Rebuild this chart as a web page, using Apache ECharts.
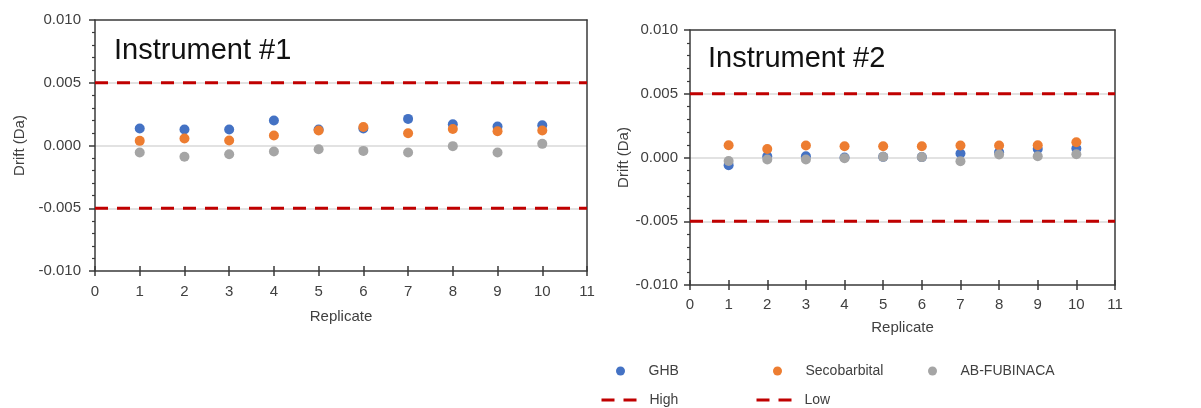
<!DOCTYPE html>
<html>
<head>
<meta charset="utf-8">
<script src="https://cdn.jsdelivr.net/npm/echarts@6/dist/echarts.min.js"></script>
<style>
html,body{margin:0;padding:0;background:#fff;}
#chart{width:1201px;height:408px;}
</style>
</head>
<body>
<div id="chart"></div>
<script>
// ---- data ----
var replicates = [1, 2, 3, 4, 5, 6, 7, 8, 9, 10];
var inst1GHB   = [0.00135, 0.00128, 0.00128, 0.00199, 0.00128, 0.00135, 0.00212, 0.00170, 0.00151, 0.00162];
var inst1Seco  = [0.00037, 0.00056, 0.00040, 0.00080, 0.00120, 0.00148, 0.00098, 0.00132, 0.00114, 0.00120];
var inst1ABF   = [-0.00056, -0.00090, -0.00070, -0.00048, -0.00030, -0.00043, -0.00056, -0.00005, -0.00056, 0.00013];
var inst2GHB   = [-0.00060, 0.00010, 0.00010, 0.00000, 0.00005, 0.00003, 0.00031, 0.00041, 0.00067, 0.00070];
var inst2Seco  = [0.00096, 0.00067, 0.00094, 0.00088, 0.00088, 0.00088, 0.00094, 0.00094, 0.00096, 0.00120];
var inst2ABF   = [-0.00027, -0.00016, -0.00016, -0.00005, 0.00005, 0.00003, -0.00029, 0.00023, 0.00010, 0.00026];
var highLimit = 0.005;
var lowLimit = -0.005;
var xRange = [0, 11];
var yRange = [-0.010, 0.010];
var panelTitles = ['Instrument #1', 'Instrument #2'];

// ---- styling ----
var colors = { 'GHB': '#4472C4', 'Secobarbital': '#ED7D31', 'AB-FUBINACA': '#A5A5A5' };
var red = '#C00000';
var axisColor = '#3a3a3a';
var textColor = '#404040';
var font = 'Liberation Sans, Arial, sans-serif';

function pairs(xs, ys) { return xs.map(function (x, i) { return [x, ys[i]]; }); }

var grids = [
  { left: 95, top: 20, width: 492, height: 251 },
  { left: 690, top: 30, width: 425, height: 255 }
];
var yNameGap = [68, 55];
var yLabelMargin = [14, 12];
var xNameGap = [38, 35];
var xLabelMargin = [13, 12];
var axisLineStyle = { color: axisColor, width: 1.5 };

var option = {
  animation: false,
  backgroundColor: '#fff',
  textStyle: { fontFamily: font },
  title: [
    { text: panelTitles[0], left: 109, top: 31, textStyle: { fontFamily: font, fontSize: 29, fontWeight: 'normal', color: '#111' } },
    { text: panelTitles[1], left: 703, top: 39, textStyle: { fontFamily: font, fontSize: 29, fontWeight: 'normal', color: '#111' } }
  ],
  grid: grids.map(function (g) {
    return Object.assign({ show: false }, g);
  }),
  xAxis: [],
  yAxis: [],
  legend: [],
  series: []
};

[0, 1].forEach(function (gi) {
  option.xAxis.push({
    type: 'value', gridIndex: gi, min: xRange[0], max: xRange[1], interval: 1,
    position: 'bottom',
    name: 'Replicate', nameLocation: 'middle', nameGap: xNameGap[gi],
    nameTextStyle: { fontFamily: font, fontSize: 15, color: textColor },
    axisLine: { show: true, onZero: false, lineStyle: axisLineStyle },
    axisTick: { show: true, inside: false, length: 5, lineStyle: axisLineStyle },
    axisLabel: { fontFamily: font, fontSize: 15, color: textColor, margin: xLabelMargin[gi] },
    splitLine: { show: false }
  });
  option.xAxis.push({
    type: 'value', gridIndex: gi, min: xRange[0], max: xRange[1], interval: 1,
    position: 'bottom',
    axisLine: { show: false, onZero: false },
    axisTick: { show: true, inside: true, length: 5, lineStyle: axisLineStyle },
    axisLabel: { show: false },
    splitLine: { show: false }
  });
  option.xAxis.push({
    type: 'value', gridIndex: gi, min: xRange[0], max: xRange[1], interval: 1,
    position: 'top',
    axisLine: { show: true, onZero: false, lineStyle: axisLineStyle },
    axisTick: { show: false },
    axisLabel: { show: false },
    splitLine: { show: false }
  });
  option.yAxis.push({
    type: 'value', gridIndex: gi, min: yRange[0], max: yRange[1], interval: 0.005,
    position: 'left',
    name: 'Drift (Da)', nameLocation: 'middle', nameGap: yNameGap[gi],
    nameTextStyle: { fontFamily: font, fontSize: 15, color: textColor },
    axisLine: { show: true, onZero: false, lineStyle: axisLineStyle },
    axisTick: { show: true, inside: false, length: 6, lineStyle: axisLineStyle },
    minorTick: { show: true, splitNumber: 5, length: 3, lineStyle: { color: axisColor, width: 1.2 } },
    axisLabel: { fontFamily: font, fontSize: 15, color: textColor, margin: yLabelMargin[gi],
      formatter: function (v) { return v.toFixed(3); } },
    splitLine: { show: true, showMinLine: false, showMaxLine: false, lineStyle: { color: '#D9D9D9', width: 1.5 } }
  });
  option.yAxis.push({
    type: 'value', gridIndex: gi, min: yRange[0], max: yRange[1], interval: 0.005,
    position: 'right',
    axisLine: { show: true, onZero: false, lineStyle: axisLineStyle },
    axisTick: { show: false },
    axisLabel: { show: false },
    splitLine: { show: false }
  });
});

var panelData = [
  { ghb: inst1GHB, seco: inst1Seco, abf: inst1ABF },
  { ghb: inst2GHB, seco: inst2Seco, abf: inst2ABF }
];

panelData.forEach(function (pd, gi) {
  var xi = gi * 3, yi = gi * 2;
  option.series.push(
    { name: 'High', type: 'line', xAxisIndex: xi, yAxisIndex: yi, symbol: 'none', z: 1,
      data: [[xRange[0], highLimit], [xRange[1], highLimit]],
      lineStyle: { color: red, width: 3, type: [13, 9] }, itemStyle: { color: red } },
    { name: 'Low', type: 'line', xAxisIndex: xi, yAxisIndex: yi, symbol: 'none', z: 1,
      data: [[xRange[0], lowLimit], [xRange[1], lowLimit]],
      lineStyle: { color: red, width: 3, type: [13, 9] }, itemStyle: { color: red } },
    { name: 'GHB', type: 'scatter', xAxisIndex: xi, yAxisIndex: yi, symbolSize: 10, z: 3,
      itemStyle: { color: colors['GHB'], opacity: 1 }, data: pairs(replicates, pd.ghb) },
    { name: 'Secobarbital', type: 'scatter', xAxisIndex: xi, yAxisIndex: yi, symbolSize: 10, z: 3,
      itemStyle: { color: colors['Secobarbital'], opacity: 1 }, data: pairs(replicates, pd.seco) },
    { name: 'AB-FUBINACA', type: 'scatter', xAxisIndex: xi, yAxisIndex: yi, symbolSize: 10, z: 3,
      itemStyle: { color: colors['AB-FUBINACA'], opacity: 1 }, data: pairs(replicates, pd.abf) }
  );
});

var legendPos = [
  { name: 'GHB', left: 616, top: 364, icon: 'circle' },
  { name: 'Secobarbital', left: 773, top: 364, icon: 'circle' },
  { name: 'AB-FUBINACA', left: 928, top: 364, icon: 'circle' },
  { name: 'High', left: 600, top: 393 },
  { name: 'Low', left: 755, top: 393 }
];
legendPos.forEach(function (lp) {
  var l = {
    left: lp.left, top: lp.top, orient: 'horizontal', padding: 0,
    itemWidth: 40, itemHeight: 9, itemGap: 0,
    textStyle: { fontFamily: font, fontSize: 14, color: textColor, padding: [0, 0, 0, 3] },
    data: [lp.name],
    selectedMode: false
  };
  if (lp.icon) { l.icon = lp.icon; }
  else {
    l.itemWidth = 35; l.itemHeight = 12;
    l.textStyle.padding = [0, 0, 0, 8];
    l.lineStyle = { color: red, width: 3, type: [13, 9] };
    l.itemStyle = { color: 'rgba(0,0,0,0)', opacity: 0, borderWidth: 0 };
  }
  option.legend.push(l);
});

var chart = echarts.init(document.getElementById('chart'), null, { renderer: 'canvas' });
chart.setOption(option);
</script>
</body>
</html>
